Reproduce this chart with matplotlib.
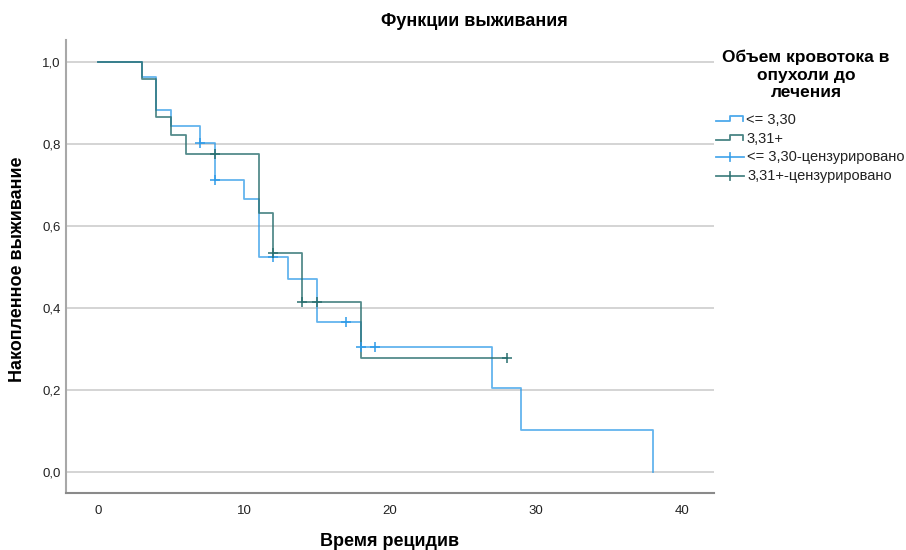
import matplotlib
matplotlib.use("Agg")
import matplotlib.pyplot as plt
from matplotlib.lines import Line2D

plt.rcParams['font.family'] = ['Liberation Sans', 'DejaVu Sans']

# ---- data ----
title = "Функции выживания"
xlabel = "Время рецидив"
ylabel = "Накопленное выживание"
legend_title = "Объем кровотока в\nопухоли до\nлечения"
legend_labels = ["<= 3,30", "3,31+", "<= 3,30-цензурировано", "3,31+-цензурировано"]

# group <= 3,30
low_times = [0, 3, 4, 5, 7, 8, 10, 11, 13, 15, 18, 27, 29, 38]
low_surv = [1.0, 0.964, 0.883, 0.843, 0.803, 0.713, 0.665, 0.524, 0.471, 0.367, 0.304, 0.204, 0.102, 0.0]
low_end = 38
low_cens_t = [7, 8, 12, 17, 18, 19]
low_cens_s = [0.803, 0.713, 0.524, 0.367, 0.304, 0.304]

# group 3,31+
high_times = [0, 3, 4, 5, 6, 11, 12, 14, 18]
high_surv = [1.0, 0.958, 0.866, 0.821, 0.777, 0.632, 0.533, 0.414, 0.277]
high_end = 28
high_cens_t = [8, 12, 14, 15, 28]
high_cens_s = [0.777, 0.533, 0.414, 0.414, 0.277]

xticks = [0, 10, 20, 30, 40]
yticks = [0.0, 0.2, 0.4, 0.6, 0.8, 1.0]
ytick_labels = ["0,0", "0,2", "0,4", "0,6", "0,8", "1,0"]

c_low = '#2f9be8'
c_high = '#2a6f6f'

W, H = 906, 550
fig = plt.figure(figsize=(W / 100, H / 100), dpi=100)
ax = fig.add_axes([66 / W, 1 - 493 / H, (714 - 66) / W, (493 - 40) / H])

ax.set_xlim(-2.2, 42.2)
ax.set_ylim(-0.0515, 1.054)

for y in yticks:
    ax.axhline(y, color='#d4d4d4', lw=1.4, zorder=0)

def step_xy(times, surv, end):
    xs, ys = [], []
    for i, (t, s) in enumerate(zip(times, surv)):
        nxt = times[i + 1] if i + 1 < len(times) else end
        xs += [t, nxt]
        ys += [s, s]
    return xs, ys

xs, ys = step_xy(high_times, high_surv, high_end)
ax.plot(xs, ys, color=c_high, lw=1.3, alpha=0.8, zorder=3)
xs, ys = step_xy(low_times, low_surv, low_end)
ax.plot(xs, ys, color=c_low, lw=1.3, alpha=0.75, zorder=2)

ax.plot(low_cens_t, low_cens_s, linestyle='none', marker='+', ms=7, mew=1.1, color=c_low, zorder=4)
ax.plot(high_cens_t, high_cens_s, linestyle='none', marker='+', ms=7, mew=1.1, color=c_high, zorder=5)

ax.set_xticks(xticks)
ax.set_xticklabels([str(v) for v in xticks], fontsize=9.5, color='#222222')
ax.set_yticks(yticks)
ax.set_yticklabels(ytick_labels, fontsize=9.5, color='#222222')
ax.tick_params(axis='x', length=0, pad=9)
ax.tick_params(axis='y', length=0, pad=4)
for s in ['top', 'right']:
    ax.spines[s].set_visible(False)
ax.spines['left'].set_color('#a8a8a8')
ax.spines['left'].set_linewidth(1.5)
ax.spines['bottom'].set_color('#8a8a8a')
ax.spines['bottom'].set_linewidth(1.5)

fig.text(474 / W, 1 - 22 / H, title, ha='center', va='center', fontsize=13, fontweight='bold')
fig.text(390 / W, 1 - 541 / H, xlabel, ha='center', va='center', fontsize=13, fontweight='bold')
fig.text(18 / W, 1 - 269 / H, ylabel, ha='center', va='center', rotation=90, fontsize=13, fontweight='bold')

fig.text(806 / W, 1 - 75 / H, legend_title, ha='center', va='center', fontsize=12.5,
         fontweight='bold', linespacing=1.22)

def px(x, y):
    return x / W, 1 - y / H

# legend handles
rows = [120, 139, 157, 176]
for i, (lab, y) in enumerate(zip(legend_labels, rows)):
    col = c_low if i % 2 == 0 else c_high
    if i < 2:
        xs_ = [716, 730, 730, 743, 743]
        ys_ = [y + 1, y + 1, y - 4, y - 4, y + 1]
        xx, yy = zip(*[px(a, b) for a, b in zip(xs_, ys_)])
        fig.add_artist(Line2D(xx, yy, color=col, lw=1.3, alpha=0.85, transform=fig.transFigure))
        tx = 746
    else:
        xx, yy = zip(*[px(a, y) for a in [716, 744]])
        fig.add_artist(Line2D(xx, yy, color=col, lw=1.3, alpha=0.85, transform=fig.transFigure))
        xx, yy = zip(*[px(730, b) for b in [y - 4, y + 4]])
        fig.add_artist(Line2D(xx, yy, color=col, lw=1.3, alpha=0.85, transform=fig.transFigure))
        tx = 747
    fig.text(tx / W, 1 - y / H, lab, ha='left', va='center', fontsize=10.5, color='#222222')

fig.savefig('out.png', dpi=100)
